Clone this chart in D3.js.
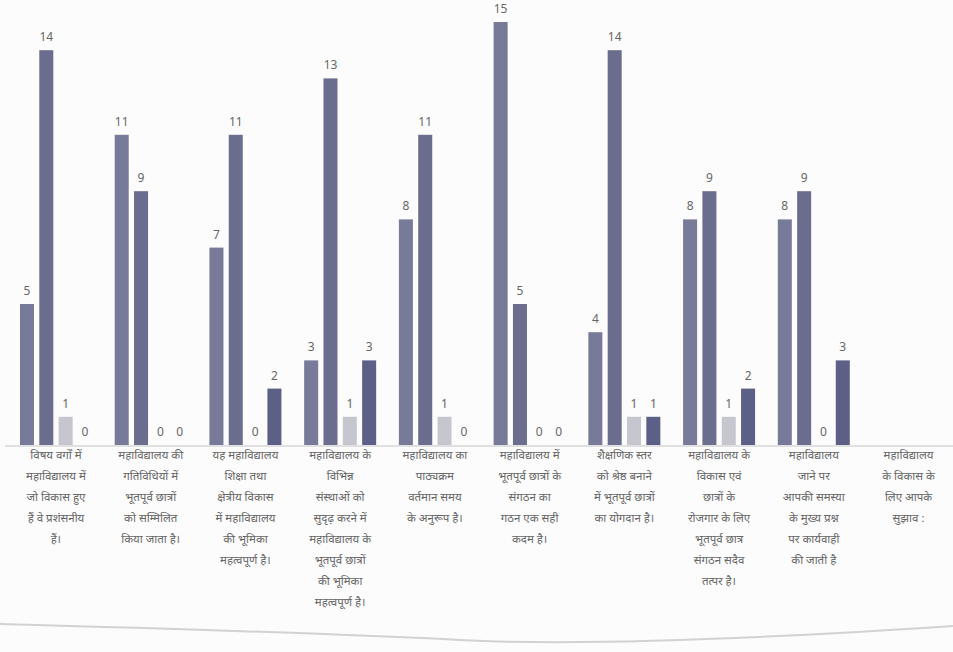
<!DOCTYPE html>
<html>
<head>
<meta charset="utf-8">
<script src="https://cdn.jsdelivr.net/npm/d3@7/dist/d3.min.js"></script>
<style>
  body { margin: 0; background: #fcfcfc; }
  svg { display: block; }
  .lbl { font-family: "Noto Sans", "Noto Sans Devanagari", "Lohit Devanagari", sans-serif; fill: #666; }
</style>
</head>
<body>
<div id="chart"></div>
<script>
    var categories = [
        "विषय वर्गों में\nमहाविद्यालय में\nजो विकास हुए\nहैं वे प्रशंसनीय\nहैं।",
        "महाविद्यालय की\nगतिविधियों में\nभूतपूर्व छात्रों\nको सम्मिलित\nकिया जाता है।",
        "यह महाविद्यालय\nशिक्षा तथा\nक्षेत्रीय विकास\nमें महाविद्यालय\nकी भूमिका\nमहत्वपूर्ण है।",
        "महाविद्यालय के\nविभिन्न\nसंस्थाओं को\nसुदृढ़ करने में\nमहाविद्यालय के\nभूतपूर्व छात्रों\nकी भूमिका\nमहत्वपूर्ण है।",
        "महाविद्यालय का\nपाठ्यक्रम\nवर्तमान समय\nके अनुरूप है।",
        "महाविद्यालय में\nभूतपूर्व छात्रों के\nसंगठन का\nगठन एक सही\nकदम है।",
        "शैक्षणिक स्तर\nको श्रेष्ठ बनाने\nमें भूतपूर्व छात्रों\nका योगदान है।",
        "महाविद्यालय के\nविकास एवं\nछात्रों के\nरोजगार के लिए\nभूतपूर्व छात्र\nसंगठन सदैव\nतत्पर है।",
        "महाविद्यालय\nजाने पर\nआपकी समस्या\nके मुख्य प्रश्न\nपर कार्यवाही\nकी जाती है",
        "महाविद्यालय\nके विकास के\nलिए आपके\nसुझाव :"
    ];
    var seriesNames = ["s1", "s2", "s3", "s4"];
    var s1 = [5, 11, 7, 3, 8, 15, 4, 8, 8, null];
    var s2 = [14, 9, 11, 13, 11, 5, 14, 9, 9, null];
    var s3 = [1, 0, 0, 1, 1, 0, 1, 1, 0, null];
    var s4 = [0, 0, 2, 3, 0, 0, 1, 2, 3, null];
    var colors = ["#777a98", "#6a6d8e", "#c6c6ce", "#5c6086"];

    var width = 953, height = 652, base = 445;

    var svg = d3.select("#chart")
                .append("svg")
                .attr("width", width)
                .attr("height", height);

    var x = d3.scaleBand()
              .domain(d3.range(categories.length))
              .range([10.5, 954])
              .paddingInner(0.24)
              .paddingOuter(0.1);

    var xi = d3.scaleBand()
               .domain(seriesNames)
               .range([0, x.bandwidth()])
               .paddingInner(0.275);

    var y = d3.scaleLinear()
              .domain([0, 15])
              .range([base, 22]);

    var series = [s1, s2, s3, s4];
    var rows = [];
    for (var i = 0; i < categories.length; i++) {
        for (var j = 0; j < series.length; j++) {
            if (series[j][i] === null) continue;
            rows.push({c: i, s: seriesNames[j], v: series[j][i], k: j});
        }
    }

    // baseline
    svg.append("line")
       .attr("x1", 5).attr("x2", width)
       .attr("y1", base + 1).attr("y2", base + 1)
       .attr("stroke", "#c4c4c4")
       .attr("stroke-width", 1.2);

    var g = svg.append("g");

    g.selectAll(".bar")
     .data(rows)
     .enter().append("rect")
     .attr("x", function(d){ return x(d.c) + xi(d.s); })
     .attr("y", function(d){ return y(d.v); })
     .attr("width", xi.bandwidth())
     .attr("height", function(d){ return base - y(d.v); })
     .attr("fill", function(d){ return colors[d.k]; });

    g.selectAll(".val")
     .data(rows)
     .enter().append("text")
     .attr("class", "lbl")
     .attr("x", function(d){ return x(d.c) + xi(d.s) + xi.bandwidth()/2; })
     .attr("y", function(d){ return y(d.v) - 9; })
     .attr("text-anchor", "middle")
     .style("font-size", "12px")
     .text(function(d){ return d.v; });

    // category labels
    var labels = svg.selectAll(".cat")
                    .data(categories)
                    .enter().append("text")
                    .attr("class", "lbl")
                    .attr("text-anchor", "middle")
                    .style("font-size", "11.5px");

    labels.each(function(d, i){
        var lines = d.split("\n");
        var cx = x(i) + x.bandwidth()/2;
        d3.select(this).selectAll("tspan")
          .data(lines)
          .enter().append("tspan")
          .attr("x", cx)
          .attr("y", function(l, k){ return 459 + k*21; })
          .text(function(l){ return l; });
    });

    // paper edge at bottom of photo
    svg.append("path")
       .attr("d", "M0,624 Q300,632 460,640 T953,626")
       .attr("fill", "none")
       .attr("stroke", "#d2d2d2")
       .attr("stroke-width", 2);
</script>
</body>
</html>
